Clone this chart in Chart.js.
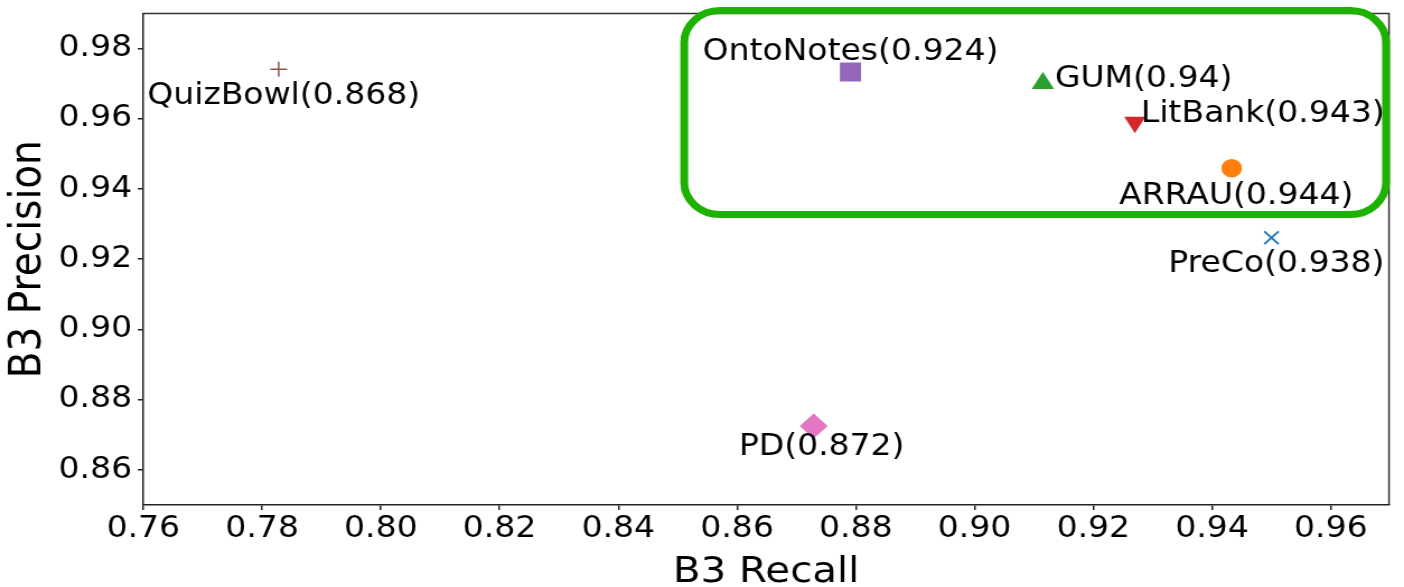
<!DOCTYPE html>
<html>
<head>
<meta charset="utf-8">
<script src="https://cdn.jsdelivr.net/npm/chart.js@4.4.1/dist/chart.umd.min.js"></script>
<style>
  html, body { margin: 0; padding: 0; background: #fff; overflow: hidden; }
  #wrap { width: 1404px; height: 587px; overflow: hidden; }
  #chart { display: block; transform-origin: 0 0; }
</style>
</head>
<body>
<div id="wrap"><canvas id="chart" width="1254" height="600"></canvas></div>
<script>
// values
const names = ["PreCo", "ARRAU", "GUM", "LitBank", "OntoNotes", "QuizBowl", "PD"];
const recall = [0.95, 0.9433, 0.9115, 0.927, 0.8791, 0.7828, 0.8729];
const precision = [0.9261, 0.9459, 0.9701, 0.959, 0.9733, 0.9741, 0.8725];
const f1 = [0.938, 0.944, 0.94, 0.943, 0.924, 0.868, 0.872];

const xTicks = [0.76, 0.78, 0.8, 0.82, 0.84, 0.86, 0.88, 0.9, 0.92, 0.94, 0.96];
const yTicks = [0.86, 0.88, 0.9, 0.92, 0.94, 0.96, 0.98];

// green highlight box, in data units
const boxX = [0.8511, 0.9693];
const boxY = [0.9327, 0.9908];

// matplotlib tab10 + markers
const colors = ["#1f77b4", "#ff7f0e", "#2ca02c", "#d62728", "#9467bd", "#8c564b", "#e377c2"];
const markers = ["crossRot", "circle", "triangle", "triangle", "rect", "cross", "rectRot"];
const rotations = [0, 0, 0, 180, 0, 0, 0];
const radii = [9, 9.2, 11.5, 11, 13.4, 7.5, 12.5];

// label placement relative to the marker (screen px)
const labelAlign = ["center", "center", "left", "left", "center", "center", "center"];
const labelDx = [5, 4.5, 12, 6, 0, 5, 8];
const labelDy = [23.5, 25, -6.7, -11, -22.6, 24, 18.5];

const STRETCH = 1404 / 1254; // canvas is drawn narrower then widened
const FAMILY = "'DejaVu Sans', 'Liberation Sans', sans-serif";
const LABEL_SIZE = 29.5;

const canvas = document.getElementById("chart");

const frameAndLabels = {
  id: "frameAndLabels",
  afterDatasetsDraw(chart) {
    const { ctx, chartArea: a, scales } = chart;
    ctx.save();

    // top and right spines
    ctx.strokeStyle = "#333";
    ctx.lineWidth = 1.5;
    ctx.beginPath();
    ctx.moveTo(a.left, a.top);
    ctx.lineTo(a.right, a.top);
    ctx.lineTo(a.right, a.bottom);
    ctx.stroke();

    // highlight box
    const x0 = scales.x.getPixelForValue(boxX[0]);
    const x1 = scales.x.getPixelForValue(boxX[1]);
    const y0 = scales.y.getPixelForValue(boxY[1]);
    const y1 = scales.y.getPixelForValue(boxY[0]);
    ctx.strokeStyle = "#1db100";
    ctx.lineWidth = 7;
    ctx.beginPath();
    ctx.roundRect(x0, y0, x1 - x0, y1 - y0, 32);
    ctx.stroke();

    // point labels
    ctx.font = `${LABEL_SIZE}px ${FAMILY}`;
    ctx.fillStyle = "#000";
    ctx.textBaseline = "alphabetic";
    names.forEach((n, i) => {
      const p = chart.getDatasetMeta(i).data[0];
      ctx.textAlign = labelAlign[i];
      ctx.fillText(
        `${n}(${f1[i]})`,
        p.x + labelDx[i] / STRETCH,
        p.y + labelDy[i] + 0.3645 * LABEL_SIZE,
      );
    });

    ctx.restore();
  },
};

const axisCommon = {
  type: "linear",
  grid: { drawOnChartArea: false, drawTicks: true, tickLength: 5, color: "#222", lineWidth: 1.5 },
  border: { display: true, color: "#222", width: 1.5 },
};

new Chart(canvas, {
  type: "scatter",
  data: {
    datasets: names.map((n, i) => ({
      label: n,
      data: [{ x: recall[i], y: precision[i] }],
      pointStyle: markers[i],
      pointRotation: rotations[i],
      pointRadius: radii[i],
      pointHoverRadius: radii[i],
      backgroundColor: colors[i],
      borderColor: colors[i],
      borderWidth: markers[i] === "cross" ? 1.5 : markers[i] === "crossRot" ? 2 : 0,
    })),
  },
  options: {
    responsive: false,
    animation: false,
    devicePixelRatio: 1,
    layout: { padding: { top: 13, right: 2, left: 0, bottom: 0 } },
    plugins: { legend: { display: false }, tooltip: { enabled: false } },
    scales: {
      x: {
        ...axisCommon,
        min: 0.76,
        max: 0.9698,
        afterBuildTicks: (s) => { s.ticks = xTicks.map((v) => ({ value: v })); },
        afterFit: (s) => { s.height = 95; s.paddingLeft = 0; s.paddingRight = 0; },
        ticks: {
          callback: (v) => v.toFixed(2),
          font: { size: 29.5, family: FAMILY },
          color: "#000",
          padding: 2,
          maxRotation: 0,
        },
        title: {
          display: true,
          text: "B3 Recall",
          font: { size: 36, family: FAMILY },
          color: "#000",
          padding: { top: 0, bottom: 6 },
        },
      },
      y: {
        ...axisCommon,
        min: 0.85,
        max: 0.99,
        afterBuildTicks: (s) => { s.ticks = yTicks.map((v) => ({ value: v })); },
        afterFit: (s) => { s.width = 128; s.paddingTop = 0; s.paddingBottom = 0; },
        ticks: {
          callback: (v) => v.toFixed(2),
          font: { size: 29.5, family: FAMILY },
          color: "#000",
          padding: 5,
        },
        title: {
          display: true,
          text: "B3 Precision",
          font: { size: 39, family: FAMILY },
          color: "#000",
          padding: { top: 2.5, bottom: 0 },
        },
      },
    },
  },
  plugins: [frameAndLabels],
});

// widen horizontally to match the reference's aspect of text and marks
canvas.style.transform = `scaleX(${STRETCH})`;
</script>
</body>
</html>
